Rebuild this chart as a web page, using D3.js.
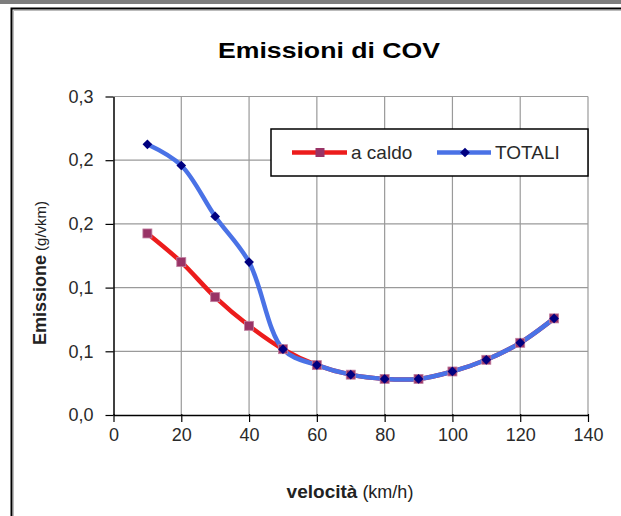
<!DOCTYPE html>
<html>
<head>
<meta charset="utf-8">
<script src="https://cdn.jsdelivr.net/npm/d3@7"></script>
<style>
  body { margin: 0; background: #fff; }
  svg { display: block; font-family: "Liberation Sans", Arial, sans-serif; }
</style>
</head>
<body>
<svg width="621" height="516"></svg>
<script>
// dati
const velocita = [10, 20, 30, 40, 50, 60, 70, 80, 90, 100, 110, 120, 130]
const aCaldo = [0.171, 0.144, 0.111, 0.084, 0.062, 0.047, 0.038, 0.034, 0.034, 0.041, 0.052, 0.068, 0.091]
const totali = [0.255, 0.235, 0.187, 0.144, 0.062, 0.047, 0.038, 0.034, 0.034, 0.041, 0.052, 0.068, 0.091]
const xTicks = [0, 20, 40, 60, 80, 100, 120, 140]
const yTicks = [0, 0.06, 0.12, 0.18, 0.24, 0.30]
const yTickLabels = ["0,0", "0,1", "0,1", "0,2", "0,2", "0,3"]
const serieNomi = ["a caldo", "TOTALI"]

const svg = d3.select('svg')

// cornice
svg.append('rect').attr('x', 0).attr('y', 0).attr('width', 621).attr('height', 4).attr('fill', '#7d7d7d')
svg.append('path').attr('d', 'M11.5,516V8.5H621').attr('fill', 'none').attr('stroke', '#000').attr('stroke-width', 2)
svg.append('path').attr('d', 'M13.5,516V10.5H621').attr('fill', 'none').attr('stroke', '#bbb').attr('stroke-width', 1)

const x = d3.scaleLinear().domain([0, 140]).range([113.5, 588])
const y = d3.scaleLinear().domain([0, 0.3]).range([415, 96.5])

// griglia
svg.append('g').selectAll('line').data(xTicks.slice(1))
  .enter().append('line')
    .attr('x1', d => x(d)).attr('x2', d => x(d))
    .attr('y1', y(0)).attr('y2', y(0.3))
    .attr('stroke', '#9a9a9a').attr('stroke-width', 1.2)
svg.append('g').selectAll('line').data(yTicks.slice(1))
  .enter().append('line')
    .attr('x1', x(0)).attr('x2', x(140))
    .attr('y1', d => y(d)).attr('y2', d => y(d))
    .attr('stroke', '#9a9a9a').attr('stroke-width', 1.2)

// assi
const xAxis = svg.append('g')
  .attr('transform', `translate(0,${y(0)})`)
  .call(d3.axisBottom(x).tickValues(xTicks).tickSize(7).tickPadding(6).tickSizeOuter(0))
const yAxis = svg.append('g')
  .attr('transform', `translate(${x(0)},0)`)
  .call(d3.axisLeft(y).tickValues(yTicks).tickSize(8).tickPadding(12).tickSizeOuter(0)
    .tickFormat((d, i) => yTickLabels[i]))
;[xAxis, yAxis].forEach(a => {
  a.select('.domain').attr('stroke', '#000').attr('stroke-width', 1.5)
  a.selectAll('.tick line').attr('stroke', '#000').attr('stroke-width', 1.2)
  a.selectAll('.tick text').attr('font-size', 18).attr('fill', '#2a2a2a')
    .attr('font-family', '"Liberation Sans", Arial, sans-serif')
})
xAxis.selectAll('.tick line').attr('y1', -1)

// linee
const linea = (valori) => d3.line()
  .x((d, i) => x(velocita[i]))
  .y(d => y(d))
  .curve(d3.curveCatmullRom.alpha(0.5))(valori)

svg.append('path').attr('d', linea(aCaldo))
  .attr('fill', 'none').attr('stroke', '#ec1c1c').attr('stroke-width', 4.5)
svg.append('path').attr('d', linea(totali))
  .attr('fill', 'none').attr('stroke', '#4a72e6').attr('stroke-width', 4.5)

// marcatori
svg.append('g').selectAll('rect').data(aCaldo)
  .enter().append('rect')
    .attr('x', (d, i) => x(velocita[i]) - 4.5)
    .attr('y', d => y(d) - 4.5)
    .attr('width', 9).attr('height', 9)
    .attr('fill', '#993366').attr('stroke', '#c07fa0').attr('stroke-width', 0.8)
const rombo = d3.symbol().type(d3.symbolDiamond2).size(60)
svg.append('g').selectAll('path').data(totali)
  .enter().append('path')
    .attr('d', rombo)
    .attr('transform', (d, i) => `translate(${x(velocita[i])},${y(d)})`)
    .attr('fill', '#000080')

// legenda
const leg = svg.append('g')
leg.append('rect').attr('x', 271).attr('y', 129).attr('width', 317).attr('height', 47)
  .attr('fill', '#fff').attr('stroke', '#000').attr('stroke-width', 1.5)
leg.append('line').attr('x1', 292).attr('x2', 347).attr('y1', 152.5).attr('y2', 152.5)
  .attr('stroke', '#ec1c1c').attr('stroke-width', 4.5)
leg.append('rect').attr('x', 315.5).attr('y', 148).attr('width', 9).attr('height', 9)
  .attr('fill', '#993366')
leg.append('text').attr('x', 351).attr('y', 159).attr('font-size', 19).attr('fill', '#2a2a2a')
  .text(serieNomi[0])
leg.append('line').attr('x1', 437).attr('x2', 491).attr('y1', 152.5).attr('y2', 152.5)
  .attr('stroke', '#4a72e6').attr('stroke-width', 4.5)
leg.append('path').attr('d', rombo).attr('transform', 'translate(465,152.5)').attr('fill', '#000080')
leg.append('text').attr('x', 495).attr('y', 159).attr('font-size', 19).attr('fill', '#2a2a2a')
  .text(serieNomi[1])

// titoli
svg.append('text').attr('x', 329).attr('y', 58).attr('text-anchor', 'middle')
  .attr('font-size', 22).attr('font-weight', 'bold')
  .attr('textLength', 222).attr('lengthAdjust', 'spacingAndGlyphs')
  .text('Emissioni  di COV')

const xTitolo = svg.append('text').attr('x', 350).attr('y', 498).attr('text-anchor', 'middle')
  .attr('fill', '#222')
xTitolo.append('tspan').attr('font-size', 19).attr('font-weight', 'bold').text('velocità')
xTitolo.append('tspan').attr('font-size', 18).text(' (km/h)')

const yTitolo = svg.append('text').attr('transform', 'translate(46,273) rotate(-90)')
  .attr('text-anchor', 'middle').attr('fill', '#222')
yTitolo.append('tspan').attr('font-size', 18).attr('font-weight', 'bold').text('Emissione')
yTitolo.append('tspan').attr('font-size', 15).text('  (g/vkm)')
</script>
</body>
</html>
